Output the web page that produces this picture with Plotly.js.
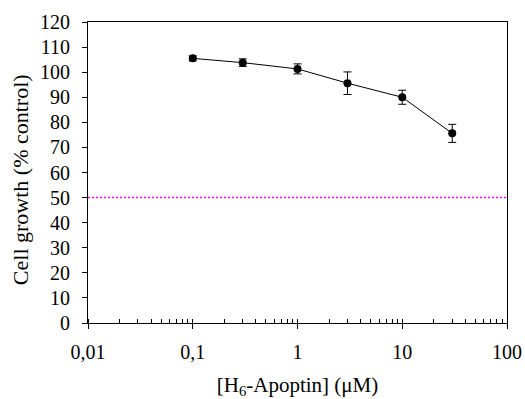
<!DOCTYPE html>
<html><head><meta charset="utf-8">
<script src="https://cdn.plot.ly/plotly-3.0.1.min.js"></script>
<style>html,body{margin:0;padding:0;background:#fff}#c{width:525px;height:399px}</style>
</head><body><div id="c"></div>
<script>
const conc = [0.1, 0.3, 1, 3, 10, 30];
const growth = [105.5, 103.8, 101.3, 95.6, 90.0, 75.6];
const errs = [1.0, 1.5, 2.0, 4.5, 2.8, 3.6];
const refLevel = 50;
const xRangeLog = [-2, 2];
const yTitle = 'Cell growth (% control)';
const xTitle = '[H<sub>6</sub>-Apoptin] (μM)';

const font = {family: '"Liberation Serif", "Times New Roman", serif', color: '#000', size: 20};

Plotly.newPlot('c', [
  {x: [0.01, 100], y: [refLevel, refLevel], mode: 'lines', line: {color: '#ff00ff', width: 1.5, dash: '2px,2px'}, hoverinfo: 'skip', showlegend: false},
  {x: conc, y: growth, mode: 'lines+markers', line: {color: '#000', width: 1},
   marker: {color: '#000', size: 8},
   error_y: {type: 'data', array: errs, visible: true, color: '#000', thickness: 1, width: 4},
   showlegend: false}
], {
  width: 525, height: 399,
  margin: {l: 88, r: 18, t: 22, b: 76},
  paper_bgcolor: '#fff', plot_bgcolor: '#fff',
  font: font,
  separators: ',.',
  xaxis: {type: 'log', range: xRangeLog, dtick: 1, tickformat: '~g',
    ticks: 'outside', ticklen: 5, tickcolor: '#000', showgrid: false, zeroline: false,
    showline: true, linecolor: '#000', linewidth: 1, mirror: true,
    minor: {ticks: 'inside', ticklen: 4, tickcolor: '#000', showgrid: false, dtick: 'D1'},
    tickfont: {size: 20}, ticklabelstandoff: 6,
    title: {text: xTitle, font: {size: 21}, standoff: 22}},
  yaxis: {range: [0, 120], dtick: 10, ticks: 'outside', ticklen: 5, tickcolor: '#000',
    showgrid: false, zeroline: false, showline: true, linecolor: '#000', linewidth: 1, mirror: true,
    tickfont: {size: 20}, ticklabelstandoff: 8},
  annotations: [{text: yTitle, xref: 'paper', yref: 'paper', x: -0.162, y: 0.475,
    xanchor: 'center', yanchor: 'middle', textangle: -90, showarrow: false, font: {size: 22}}]
}, {displayModeBar: false, staticPlot: true});
</script></body></html>
